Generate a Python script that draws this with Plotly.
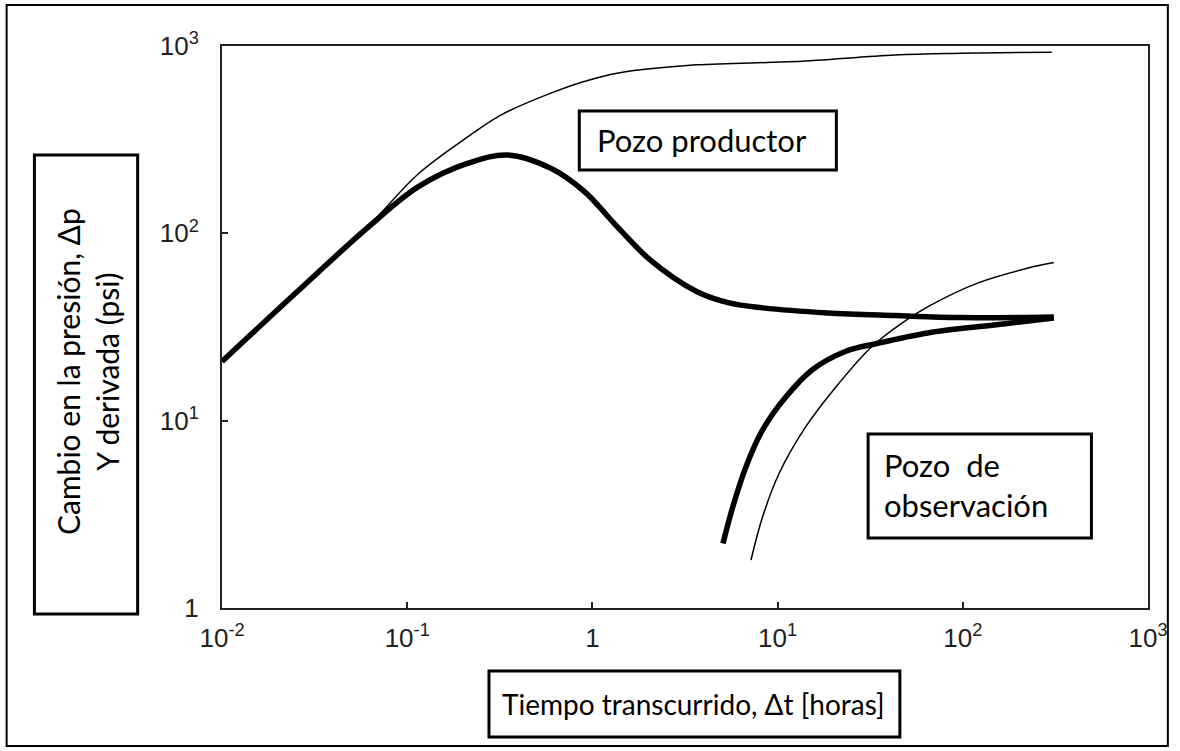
import plotly.graph_objects as go

# curve values (time in hours, pressure in psi)
prod_dp_t = [0.01, 0.025, 0.062, 0.115, 0.213, 0.322, 0.596, 0.90, 1.36, 3.65, 12.5, 43, 98, 302]
prod_dp = [20.7, 48, 110, 208, 328, 429, 560, 646, 716, 793, 826, 896, 915, 927]

prod_der_t = [0.01, 0.025, 0.062, 0.115, 0.213, 0.349, 0.596, 0.90, 1.36, 2.05, 3.65, 5.47, 8.33, 18.6, 43, 98, 310]
prod_der = [20.7, 48, 108.6, 177.5, 236.8, 262, 222.6, 168, 108.6, 72.1, 48.9, 42.5, 40, 37.6, 36.4, 35.5, 35.8]

obs_der_t = [5.07, 5.73, 6.75, 8.3, 11.1, 15.4, 23.2, 34.8, 64.6, 147.5, 310]
obs_der = [2.21, 3.47, 5.68, 8.92, 13.4, 18.7, 23.4, 25.9, 29.4, 32.4, 35.3]

obs_dp_t = [7.18, 8.3, 10.2, 14.2, 21.4, 32.2, 46.7, 64.9, 120, 223, 310]
obs_dp = [1.80, 3.07, 5.24, 9.29, 15.8, 24.8, 33.1, 40.6, 54.2, 65.1, 69.8]

tick_vals = [0.01, 0.1, 1, 10, 100, 1000]
tick_text = ['10<sup>-2</sup>', '10<sup>-1</sup>', '1', '10<sup>1</sup>', '10<sup>2</sup>', '10<sup>3</sup>']
ytick_vals = [1, 10, 100, 1000]
ytick_text = ['1', '10<sup>1</sup>', '10<sup>2</sup>', '10<sup>3</sup>']

W, H = 1180, 751
L, R, T, B = 222, 1155, 46, 608


# pixel -> paper helpers
def fx(px):
    return (px - L) / (R - L)


def fy(py):
    return (B - py) / (B - T)


fig = go.Figure()

thin = dict(color='black', width=1.5)
thick = dict(color='black', width=5.5)

fig.add_trace(go.Scatter(x=prod_dp_t, y=prod_dp, mode='lines', line=dict(thin, shape='spline')))
fig.add_trace(go.Scatter(x=prod_der_t, y=prod_der, mode='lines', line=dict(thick, shape='spline')))
fig.add_trace(go.Scatter(x=obs_dp_t, y=obs_dp, mode='lines', line=dict(thin, shape='spline')))
fig.add_trace(go.Scatter(x=obs_der_t, y=obs_der, mode='lines', line=dict(thick, shape='spline')))

axis_common = dict(
    type='log',
    showgrid=False,
    zeroline=False,
    showline=True,
    linecolor='#222',
    linewidth=2,
    mirror=True,
    ticks='inside',
    ticklen=6,
    tickwidth=1.5,
    tickcolor='#222',
    tickfont=dict(family='Liberation Sans', size=26, color='#222'),
)

fig.update_xaxes(axis_common, range=[-2, 3], tickvals=tick_vals, ticktext=tick_text, ticklabelstandoff=6)
fig.update_yaxes(axis_common, range=[0, 3], tickvals=ytick_vals, ticktext=ytick_text, ticklabelstandoff=16)

box_line = dict(color='black', width=3)
label_font = dict(family='Lato', size=31, color='black')

shapes = [
    # outer frame
    dict(type='rect', xref='paper', yref='paper', x0=fx(5), x1=fx(1175), y0=fy(746), y1=fy(5),
         line=dict(color='black', width=2)),
    # y title box
    dict(type='rect', xref='paper', yref='paper', x0=fx(33), x1=fx(137), y0=fy(614), y1=fy(155),
         line=box_line, fillcolor='white'),
    # x title box
    dict(type='rect', xref='paper', yref='paper', x0=fx(491), x1=fx(905), y0=fy(737), y1=fy(671),
         line=box_line, fillcolor='white'),
    # Pozo productor
    dict(type='rect', xref='paper', yref='paper', x0=fx(582), x1=fx(841), y0=fy(170), y1=fy(111),
         line=box_line, fillcolor='white'),
    # Pozo de observacion
    dict(type='rect', xref='paper', yref='paper', x0=fx(873), x1=fx(1098), y0=fy(538), y1=fy(434),
         line=box_line, fillcolor='white'),
]

annotations = [
    dict(text='Cambio en la presión, Δp<br>Y derivada (psi)', xref='paper', yref='paper',
         x=fx(86), y=fy(372), xanchor='center', yanchor='middle', textangle=-90,
         showarrow=False, font=dict(label_font, size=30), align='center'),
    dict(text='Tiempo transcurrido, Δt [horas]', xref='paper', yref='paper',
         x=fx(502), y=fy(704), xanchor='left', yanchor='middle',
         showarrow=False, font=dict(label_font, size=28)),
    dict(text='Pozo productor', xref='paper', yref='paper',
         x=fx(598), y=fy(140), xanchor='left', yanchor='middle',
         showarrow=False, font=label_font),
    dict(text='Pozo  de<br>observación', xref='paper', yref='paper',
         x=fx(887), y=fy(485), xanchor='left', yanchor='middle',
         showarrow=False, font=label_font, align='left'),
]

fig.update_layout(
    width=W,
    height=H,
    margin=dict(l=L, r=W - R, t=T, b=H - B),
    plot_bgcolor='white',
    paper_bgcolor='white',
    showlegend=False,
    shapes=shapes,
    annotations=annotations,
)

fig.write_html("out.html", config={'displayModeBar': False},
               post_script="document.body.style.margin='0';document.body.style.overflow='hidden';")
